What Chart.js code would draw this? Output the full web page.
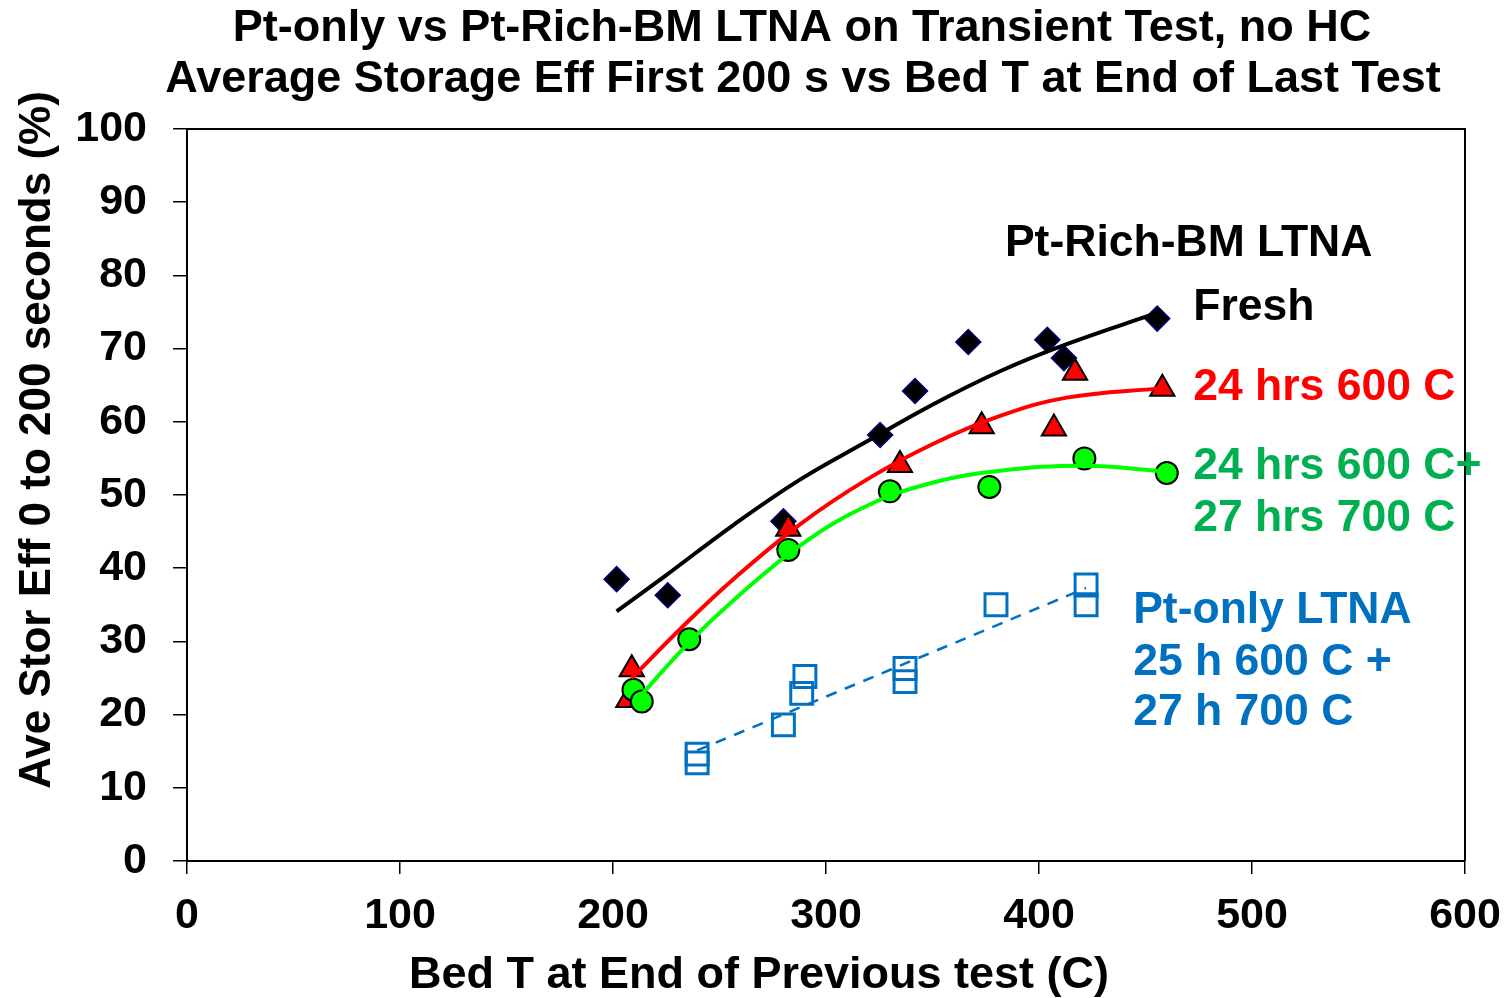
<!DOCTYPE html>
<html>
<head>
<meta charset="utf-8">
<script src="https://cdn.jsdelivr.net/npm/chart.js@4.4.1/dist/chart.umd.min.js"></script>
<style>
  html, body { margin: 0; padding: 0; background: #ffffff; }
  #wrap { width: 1504px; height: 998px; position: relative; }
</style>
</head>
<body>
<div id="wrap"><canvas id="c" width="1504" height="998"></canvas></div>
<script>
// Measured points: bed temperature (C) vs average storage efficiency (%)
const freshX = [201.7, 225.7, 280.0, 325.4, 341.8, 366.8, 403.9, 411.7, 455.5];
const freshY = [38.5, 36.3, 46.4, 58.2, 64.2, 70.9, 71.2, 68.7, 74.1];

const aged600X = [207.2, 208.8, 282.3, 334.7, 373.1, 407.0, 416.9, 457.9];
const aged600Y = [22.0, 26.2, 45.4, 54.1, 59.4, 59.1, 66.7, 64.5];

const aged700X = [209.6, 213.5, 235.8, 282.3, 330.0, 376.7, 421.3, 460.0];
const aged700Y = [23.4, 21.8, 30.3, 42.5, 50.5, 51.1, 55.0, 53.0];

const ptOnlyX = [239.5, 239.5, 280.0, 288.6, 290.1, 337.1, 337.1, 379.8, 422.1, 422.1];
const ptOnlyY = [14.6, 13.4, 18.6, 22.9, 25.2, 26.3, 24.5, 35.0, 37.7, 35.0];

// Trendlines as drawn on the chart
const freshTrendX = [201.7, 225.2, 256.5, 287.8, 319.1, 350.4, 381.7, 413.0, 455.7];
const freshTrendY = [34.1, 39.1, 45.9, 52.1, 57.3, 62.4, 66.9, 70.6, 74.9];
const aged600TrendX = [208.8, 233.0, 256.5, 287.8, 319.1, 350.4, 381.7, 413.0, 457.9];
const aged600TrendY = [25.0, 32.1, 38.5, 46.0, 52.1, 57.0, 60.8, 63.3, 64.6];
const aged700TrendX = [209.6, 236.2, 256.5, 287.8, 319.1, 350.4, 381.7, 420.8, 460.0];
const aged700TrendY = [21.5, 30.0, 35.6, 43.1, 48.5, 51.7, 53.3, 54.0, 53.2];
const ptOnlyTrendX = [239.5, 422.1];
const ptOnlyTrendY = [15.1, 37.3];

// Axis ticks
const xTicks = [0, 100, 200, 300, 400, 500, 600];
const yTicks = [0, 10, 20, 30, 40, 50, 60, 70, 80, 90, 100];

// Texts
const titleLines = [
  "Pt-only vs Pt-Rich-BM LTNA on Transient Test, no HC",
  "Average Storage Eff First 200 s vs Bed T at End of Last Test"
];
const xAxisTitle = "Bed T at End of Previous test (C)";
const yAxisTitle = "Ave Stor Eff 0 to 200 seconds (%)";
const seriesLabels = [
  { text: "Pt-Rich-BM LTNA", color: "#000000" },
  { text: "Fresh", color: "#000000" },
  { text: "24 hrs 600 C", color: "#FF0000" },
  { text: "24 hrs 600 C+", color: "#00B050" },
  { text: "27 hrs 700 C", color: "#00B050" },
  { text: "Pt-only LTNA", color: "#0070C0" },
  { text: "25 h 600 C +", color: "#0070C0" },
  { text: "27 h 700 C", color: "#0070C0" }
];
// where each label sits, in axis units (left edge, vertical middle)
const labelAnchors = [
  [384.0, 84.3], [472.4, 75.6], [472.4, 64.7], [472.4, 53.9],
  [472.4, 46.8], [444.2, 34.2], [444.2, 27.1], [444.2, 20.2]
];

const FONT = "'Liberation Sans', Arial, sans-serif";
const pts = (xs, ys) => xs.map((x, i) => ({ x: x, y: ys[i] }));

const decor = {
  id: 'decor',
  afterDraw(chart) {
    const { ctx, chartArea: a, scales } = chart;
    ctx.save();
    // plot-area frame (top and right edges)
    ctx.strokeStyle = '#000';
    ctx.lineWidth = 2;
    ctx.beginPath();
    ctx.moveTo(a.left, a.top);
    ctx.lineTo(a.right, a.top);
    ctx.lineTo(a.right, a.bottom);
    ctx.stroke();

    ctx.fillStyle = '#000';
    ctx.textAlign = 'center';
    ctx.textBaseline = 'middle';
    ctx.font = `bold 45px ${FONT}`;
    ctx.fillText(titleLines[0], 802, 29);
    ctx.fillText(titleLines[1], 803, 80);

    ctx.fillText(xAxisTitle, 759, 976);

    ctx.save();
    ctx.translate(38, 440);
    ctx.rotate(-Math.PI / 2);
    ctx.font = `bold 44px ${FONT}`;
    ctx.fillText(yAxisTitle, 0, 0);
    ctx.restore();

    ctx.textAlign = 'left';
    ctx.font = `bold 44.5px ${FONT}`;
    seriesLabels.forEach((l, i) => {
      const [vx, vy] = labelAnchors[i];
      ctx.fillStyle = l.color;
      ctx.fillText(l.text, scales.x.getPixelForValue(vx), scales.y.getPixelForValue(vy));
    });
    ctx.restore();
  }
};

const trend = (label, xs, ys, color, width, dash, order) => ({
  type: 'line', label, data: pts(xs, ys), borderColor: color, borderWidth: width,
  borderDash: dash, pointRadius: 0, showLine: true, fill: false,
  tension: 0.4, order
});

const noEdgePadding = s => {
  s.paddingLeft = 0; s.paddingRight = 0; s.paddingTop = 0; s.paddingBottom = 0;
};

new Chart(document.getElementById('c'), {
  type: 'scatter',
  data: {
    datasets: [
      trend('Fresh trend', freshTrendX, freshTrendY, '#000000', 4, [], 1),
      trend('24 hrs 600 C trend', aged600TrendX, aged600TrendY, '#FF0000', 4, [], 1),
      trend('24 hrs 600 C + 27 hrs 700 C trend', aged700TrendX, aged700TrendY, '#00FF00', 4, [], 1),
      trend('Pt-only trend', ptOnlyTrendX, ptOnlyTrendY, '#0070C0', 2.5, [11, 9], 1),
      {
        label: 'Pt-only LTNA', data: pts(ptOnlyX, ptOnlyY), pointStyle: 'rect',
        pointRadius: 15.5, pointBackgroundColor: 'rgba(255,255,255,0)',
        pointBorderColor: '#0070C0', pointBorderWidth: 3, order: 2
      },
      {
        label: '24 hrs 600 C + 27 hrs 700 C', data: pts(aged700X, aged700Y), pointStyle: 'circle',
        pointRadius: 11, pointBackgroundColor: '#00FF00', pointBorderColor: '#000000',
        pointBorderWidth: 2, order: 3
      },
      {
        label: '24 hrs 600 C', data: pts(aged600X, aged600Y), pointStyle: 'triangle',
        pointRadius: 14, pointBackgroundColor: '#FF0000', pointBorderColor: '#000000',
        pointBorderWidth: 2, order: 4
      },
      {
        label: 'Fresh', data: pts(freshX, freshY), pointStyle: 'rectRot',
        pointRadius: 12.5, pointBackgroundColor: '#000000', pointBorderColor: '#000080',
        pointBorderWidth: 1.5, order: 5
      }
    ]
  },
  options: {
    responsive: false,
    animation: false,
    events: [],
    layout: { padding: { top: 129, right: 39, left: 0, bottom: 0 } },
    plugins: { legend: { display: false }, title: { display: false }, tooltip: { enabled: false } },
    scales: {
      x: {
        type: 'linear', min: 0, max: 600,
        afterBuildTicks: s => { s.ticks = xTicks.map(v => ({ value: v })); },
        afterFit: s => { s.height = 137; noEdgePadding(s); },
        ticks: { color: '#000', font: { family: FONT, size: 43, weight: 'bold' }, padding: 16, maxRotation: 0 },
        grid: { display: true, drawOnChartArea: false, drawTicks: true, tickLength: 13, color: '#000', lineWidth: 1.5 },
        border: { display: true, color: '#000', width: 2 }
      },
      y: {
        type: 'linear', min: 0, max: 100,
        afterBuildTicks: s => { s.ticks = yTicks.map(v => ({ value: v })); },
        afterFit: s => { s.width = 187; noEdgePadding(s); },
        ticks: { color: '#000', font: { family: FONT, size: 43, weight: 'bold' }, padding: 26 },
        grid: { display: true, drawOnChartArea: false, drawTicks: true, tickLength: 14, color: '#000', lineWidth: 1.5 },
        border: { display: true, color: '#000', width: 2 }
      }
    }
  },
  plugins: [decor]
});
</script>
</body>
</html>
